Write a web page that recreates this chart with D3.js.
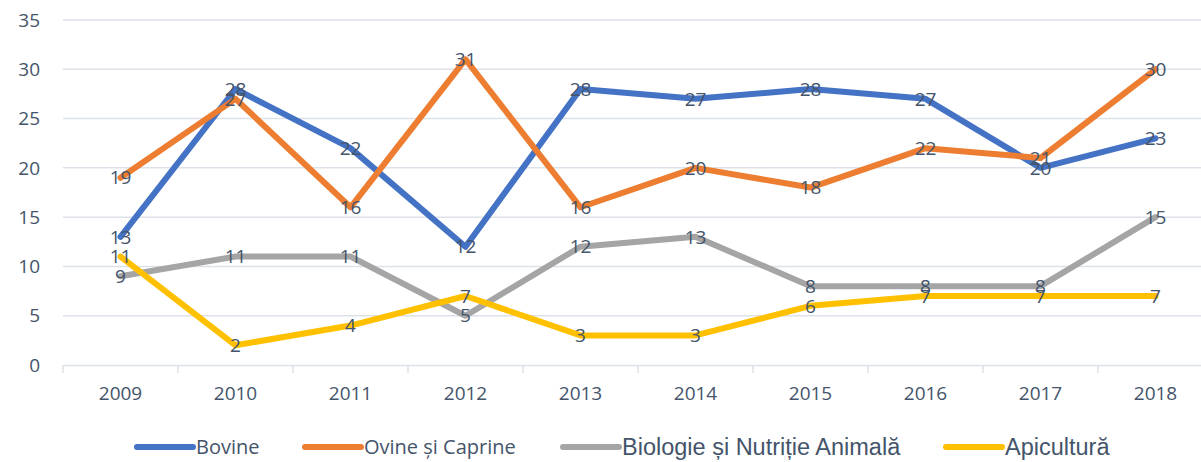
<!DOCTYPE html>
<html>
<head>
<meta charset="utf-8">
<script src="https://cdn.jsdelivr.net/npm/d3@7.9.0/dist/d3.min.js"></script>
<style>
  body { margin: 0; background: #fff; }
  svg { display: block; }
</style>
</head>
<body>
<svg width="1201" height="462"></svg>
<script>
// data
const years = ['2009', '2010', '2011', '2012', '2013', '2014', '2015', '2016', '2017', '2018'];
const bovine = [13, 28, 22, 12, 28, 27, 28, 27, 20, 23];
const ovine = [19, 27, 16, 31, 16, 20, 18, 22, 21, 30];
const biologie = [9, 11, 11, 5, 12, 13, 8, 8, 8, 15];
const apicultura = [11, 2, 4, 7, 3, 3, 6, 7, 7, 7];
const seriesNames = ['Bovine', 'Ovine și Caprine', 'Biologie și Nutriție Animală', 'Apicultură'];
const yTicks = [0, 5, 10, 15, 20, 25, 30, 35];

const colors = ['#4472C4', '#ED7D31', '#A5A5A5', '#FFC000'];
const textColor = '#44546A';
const font = 'Open Sans, sans-serif';
const numSize = 19;

const series = [bovine, ovine, biologie, apicultura].map((values, i) => ({
    name: seriesNames[i], values, color: colors[i]
}));

const svg = d3.select('svg');

// the plot runs a little past the right edge, like the original
const x = d3.scaleBand().domain(years).range([63, 1213]).padding(0);
const y = d3.scaleLinear().domain([0, 35]).range([365, 20]);

// gridlines
svg.append('g')
    .selectAll('line')
    .data(yTicks.filter(d => d > 0))
    .join('line')
    .attr('x1', 63).attr('x2', 1213)
    .attr('y1', d => y(d)).attr('y2', d => y(d))
    .attr('stroke', '#DDE2E9').attr('stroke-width', 1.5);

// y axis labels
svg.append('g')
    .selectAll('text')
    .data(yTicks)
    .join('text')
    .attr('x', 40).attr('y', d => y(d))
    .attr('dy', '0.35em')
    .attr('text-anchor', 'end')
    .attr('font-family', font).attr('font-size', numSize)
    .attr('fill', textColor)
    .text(d => d);

// x axis
const xAxis = svg.append('g')
    .attr('transform', `translate(0,${y(0)})`)
    .call(d3.axisBottom(x).tickSize(0).tickPadding(22));
xAxis.select('.domain').attr('stroke', '#DDE2E9').attr('stroke-width', 1.5);
xAxis.selectAll('text')
    .attr('font-family', font).attr('font-size', numSize)
    .attr('fill', textColor);
// category boundary ticks
xAxis.append('g')
    .selectAll('line')
    .data(years)
    .join('line')
    .attr('x1', d => x(d)).attr('x2', d => x(d))
    .attr('y1', 0).attr('y2', 8)
    .attr('stroke', '#DDE2E9').attr('stroke-width', 1.5);

// lines
const line = d3.line()
    .x((d, i) => x(years[i]) + x.bandwidth() / 2)
    .y(d => y(d));

svg.append('g')
    .selectAll('path')
    .data(series)
    .join('path')
    .attr('d', d => line(d.values))
    .attr('fill', 'none')
    .attr('stroke', d => d.color)
    .attr('stroke-width', 6)
    .attr('stroke-linejoin', 'round')
    .attr('stroke-linecap', 'round');

// value labels, centred on the points
series.forEach(s => {
    svg.append('g')
        .selectAll('text')
        .data(s.values)
        .join('text')
        .attr('x', (d, i) => x(years[i]) + x.bandwidth() / 2)
        .attr('y', d => y(d))
        .attr('dy', '0.35em')
        .attr('text-anchor', 'middle')
        .attr('font-family', font).attr('font-size', numSize)
        .attr('fill', textColor)
        .text(d => d);
});

// legend
const legendItems = [
    { x: 137, family: font, size: 20 },
    { x: 305, family: font, size: 20 },
    { x: 563, family: 'Liberation Sans, Arial, sans-serif', size: 23.5 },
    { x: 946, family: 'Liberation Sans, Arial, sans-serif', size: 23.5 }
];
const legend = svg.append('g').attr('transform', 'translate(0,447)');
series.forEach((s, i) => {
    const item = legend.append('g').attr('transform', `translate(${legendItems[i].x},0)`);
    item.append('line')
        .attr('x1', 0).attr('x2', 56)
        .attr('stroke', s.color).attr('stroke-width', 6)
        .attr('stroke-linecap', 'round');
    item.append('text')
        .attr('x', 59).attr('dy', '0.35em')
        .attr('font-family', legendItems[i].family)
        .attr('font-size', legendItems[i].size)
        .attr('fill', textColor)
        .text(s.name);
});
</script>
</body>
</html>
